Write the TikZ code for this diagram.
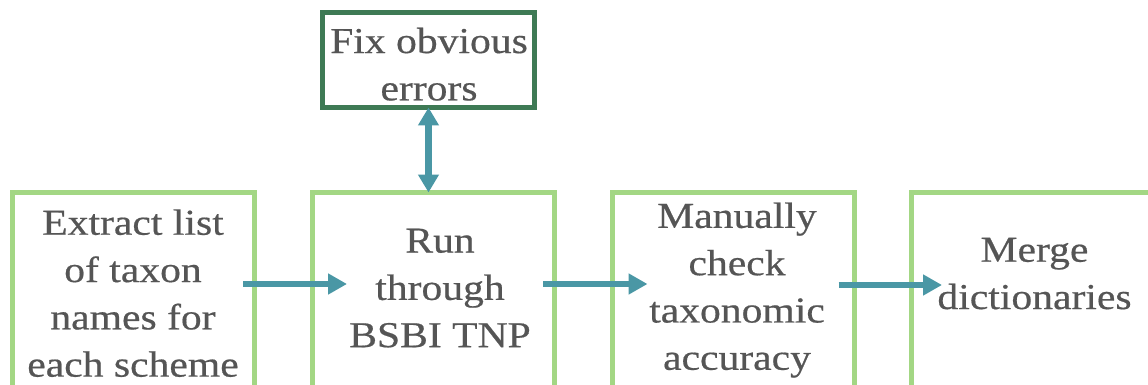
\documentclass[tikz,border=0pt]{standalone}
\usepackage{fontspec}
\setmainfont[FakeStretch=1.14,FakeBold=0.5]{Liberation Serif}
\usetikzlibrary{arrows.meta}
\definecolor{lgreen}{HTML}{A3D784}
\definecolor{dgreen}{HTML}{3E7A55}
\definecolor{teal}{HTML}{4A97A5}
\definecolor{txt}{HTML}{555555}
\tikzset{
  stage/.style={draw=lgreen, line width=5pt, minimum width=242pt, minimum height=207.5pt, inner sep=0pt, outer sep=0pt},
  fixbox/.style={draw=dgreen, line width=5pt, minimum width=212pt, minimum height=95pt, inner sep=0pt, outer sep=0pt},
  label/.style={text=txt, align=center, inner sep=0pt, font=\fontsize{36.5}{47.3}\selectfont},
  arr/.style={draw=teal, line width=6.5pt, -{Triangle[length=19pt,width=20pt]}},
  darr/.style={draw=teal, line width=6.5pt, {Triangle[length=18pt,width=20pt]}-{Triangle[length=18pt,width=20pt]}}
}
\begin{document}
\begin{tikzpicture}[x=1pt,y=-1pt]
\useasboundingbox (0,0) rectangle (1148,385);
\clip (0,0) rectangle (1148,385);
\node[stage] (b1) at (133.5,296.25) {};
\node[stage] (b2) at (433.5,296.25) {};
\node[stage] (b3) at (733,296.25) {};
\node[stage] (b4) at (1032.5,296.25) {};
\node[fixbox] (f) at (428.5,60) {};
\node[label] (t1) at (133,293.2) {Extract list\\of taxon\\names for\\each scheme};
\node[label] (t2) at (440,288.1) {Run\\through\\BSBI TNP};
\node[label] (t3) at (737,290.1) {Manually\\check\\taxonomic\\accuracy};
\node[label] (t4) at (1034.5,273.6) {Merge\\dictionaries};
\node[label] (t5) at (429,64.2) {Fix obvious\\errors};
\draw[darr] (f.south) -- (f.south |- b2.north);
\draw[arr] ([xshift=-11.5pt,yshift=12.25pt]b1.east) -- ([xshift=34.5pt,yshift=12.25pt]b2.west);
\draw[arr] ([xshift=-11.5pt,yshift=12.25pt]b2.east) -- ([xshift=35.5pt,yshift=12.25pt]b3.west);
\draw[arr] ([xshift=-15.5pt,yshift=11.25pt]b3.east) -- ([xshift=30.5pt,yshift=11.25pt]b4.west);
\end{tikzpicture}
\end{document}
